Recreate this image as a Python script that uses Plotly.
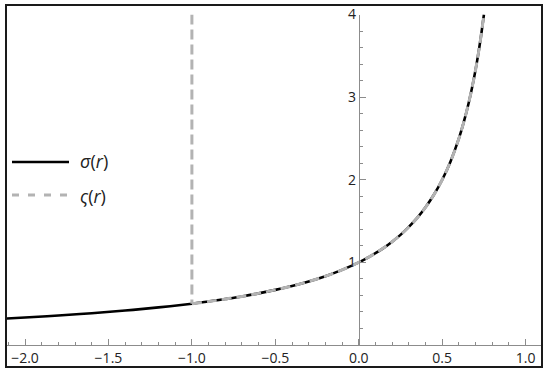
import plotly.graph_objects as go

# Data
r_sigma = [-2.15, -2.0, -1.8, -1.6, -1.4, -1.2, -1.0, -0.9, -0.8, -0.7, -0.6, -0.5, -0.4, -0.3, -0.2, -0.1,
           0.0, 0.05, 0.1, 0.15, 0.2, 0.25, 0.3, 0.35, 0.4, 0.45, 0.5, 0.55, 0.6, 0.63, 0.66, 0.69, 0.71, 0.73, 0.75]
sigma = [0.317, 0.333, 0.357, 0.385, 0.417, 0.455, 0.500, 0.526, 0.556, 0.588, 0.625, 0.667, 0.714, 0.769, 0.833, 0.909,
         1.000, 1.053, 1.111, 1.176, 1.250, 1.333, 1.429, 1.538, 1.667, 1.818, 2.000, 2.222, 2.500, 2.703, 2.941, 3.226, 3.448, 3.704, 4.000]

r_vs = [-1.0, -1.0]          # vertical part of ς(r)
vs = [4.0, 0.5]
r_vsc = [-1.0, -0.9, -0.8, -0.7, -0.6, -0.5, -0.4, -0.3, -0.2, -0.1,
         0.0, 0.05, 0.1, 0.15, 0.2, 0.25, 0.3, 0.35, 0.4, 0.45, 0.5, 0.55, 0.6, 0.63, 0.66, 0.69, 0.71, 0.73, 0.75]
vsc = [0.500, 0.526, 0.556, 0.588, 0.625, 0.667, 0.714, 0.769, 0.833, 0.909,
       1.000, 1.053, 1.111, 1.176, 1.250, 1.333, 1.429, 1.538, 1.667, 1.818, 2.000, 2.222, 2.500, 2.703, 2.941, 3.226, 3.448, 3.704, 4.000]

x_ticks = [-2.0, -1.5, -1.0, -0.5, 0.0, 0.5, 1.0]
x_ticktext = ["\u22122.0", "\u22121.5", "\u22121.0", "\u22120.5", "0.0", "0.5", "1.0"]
y_ticks = [1, 2, 3, 4]
y_ticktext = ["1", "2", "3", "4"]
legend_labels = ["<i>\u03c3</i>(<i>r</i>)", "<i>\u03c2</i>(<i>r</i>)"]

GRAY = "#b3b3b3"
AX = "#8c8c8c"
FONT = "Open Sans"

fig = go.Figure()
fig.add_trace(go.Scatter(x=r_sigma, y=sigma, mode="lines", line=dict(color="black", width=2.6, shape="spline"),
                         showlegend=False, hoverinfo="skip"))
fig.add_trace(go.Scatter(x=r_vs, y=vs, mode="lines", line=dict(color=GRAY, width=3, dash="10px,5px"),
                         showlegend=False, hoverinfo="skip"))
fig.add_trace(go.Scatter(x=r_vsc, y=vsc, mode="lines", line=dict(color=GRAY, width=3, dash="10px,5px", shape="spline"),
                         showlegend=False, hoverinfo="skip"))

W, H = 550, 373
L, R, T, B = 7, 8, 5, 28
pw = W - L - R
ph = H - T - B

def px(x):
    return (x - L) / pw

def py(y):
    return (H - B - y) / ph

fig.update_layout(
    width=W, height=H,
    margin=dict(l=L, r=R, t=T, b=B, pad=0, autoexpand=False),
    paper_bgcolor="white", plot_bgcolor="white",
    font=dict(family=FONT, size=14, color="#222222"),
    xaxis=dict(range=[-2.108, 1.098], showgrid=False, zeroline=False, showline=True, linecolor=AX, linewidth=1,
               automargin=False,
               ticks="inside", ticklen=6, tickcolor=AX, tickvals=x_ticks, ticktext=x_ticktext,
               minor=dict(dtick=0.1, tick0=0, ticks="inside", ticklen=3, tickcolor=AX),
               tickfont=dict(family=FONT, size=14, color="#222222")),
    yaxis=dict(range=[0, 4], domain=[0, (345 - 14.5) / ph], anchor="free", position=px(358.8),
               automargin=False,
               showgrid=False, zeroline=False, showline=True, linecolor=AX, linewidth=1,
               ticks="inside", ticklen=6, tickcolor=AX, tickvals=y_ticks, ticktext=y_ticktext,
               minor=dict(dtick=0.2, tick0=0, ticks="inside", ticklen=3, tickcolor=AX),
               tickfont=dict(family=FONT, size=14, color="#222222")),
    showlegend=False,
)

shapes = [
    dict(type="rect", xref="paper", yref="paper", x0=px(6), x1=px(542), y0=py(367), y1=py(5),
         line=dict(color="#1a1a1a", width=2), fillcolor="rgba(0,0,0,0)", layer="above"),
    dict(type="line", xref="paper", yref="paper", x0=px(12), x1=px(69), y0=py(162), y1=py(162),
         line=dict(color="black", width=2.6)),
    dict(type="line", xref="paper", yref="paper", x0=px(12), x1=px(69), y0=py(195), y1=py(195),
         line=dict(color=GRAY, width=3, dash="7px,9px")),
]
fig.update_layout(shapes=shapes)

annotations = [
    dict(xref="paper", yref="paper", x=px(78), y=py(161), text=legend_labels[0], showarrow=False,
         xanchor="left", yanchor="middle", font=dict(family=FONT, size=18, color="#222222")),
    dict(xref="paper", yref="paper", x=px(78), y=py(196), text=legend_labels[1], showarrow=False,
         xanchor="left", yanchor="middle", font=dict(family=FONT, size=18, color="#222222")),
]
fig.update_layout(annotations=annotations)

fig.write_html("out.html", config={"displayModeBar": False},
               post_script="document.body.style.margin='0';document.body.style.padding='0';document.body.style.overflow='hidden';")
